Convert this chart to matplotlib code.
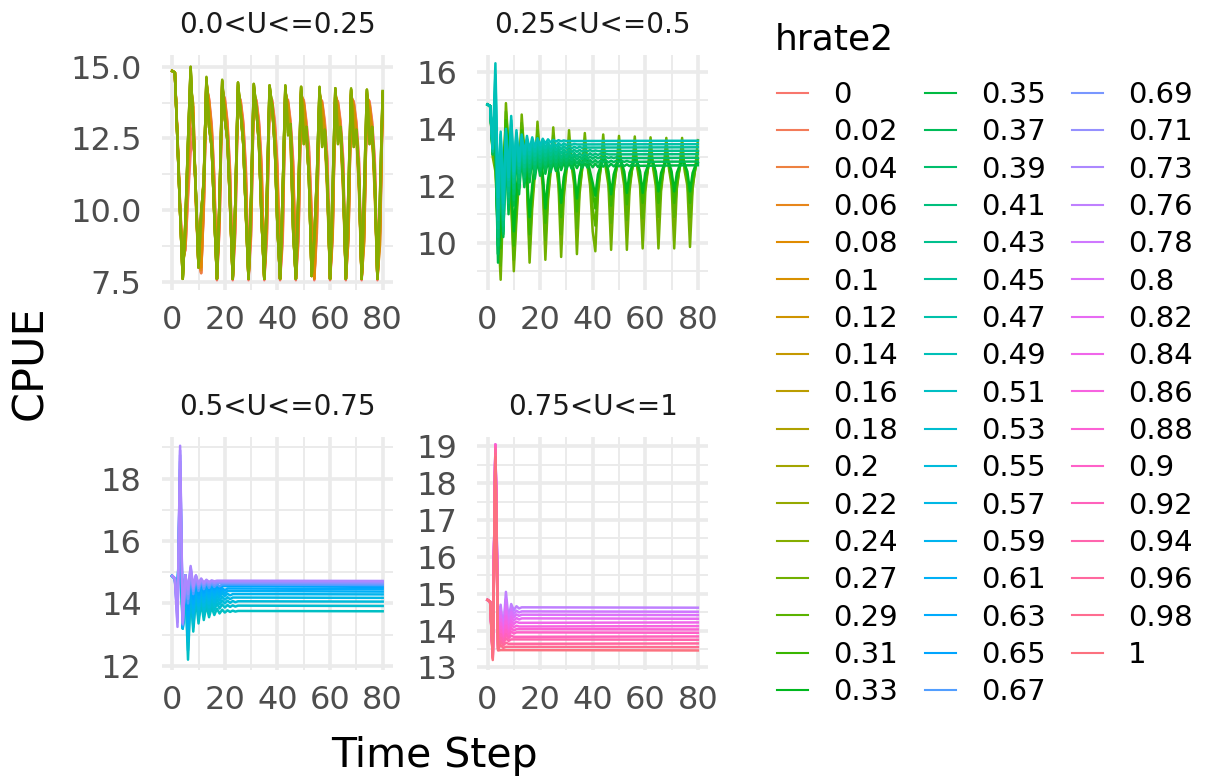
'''CPUE by time step for each harvest rate, faceted by U class (ggplot-like layout)'''

import numpy as np
import matplotlib.pyplot as plt
from matplotlib.lines import Line2D

plt.rcParams['font.family'] = ['DejaVu Sans']

HRATE = ['0', '0.02', '0.04', '0.06', '0.08', '0.1', '0.12', '0.14', '0.16', '0.18',
         '0.2', '0.22', '0.24', '0.27', '0.29', '0.31', '0.33', '0.35', '0.37', '0.39',
         '0.41', '0.43', '0.45', '0.47', '0.49', '0.51', '0.53', '0.55', '0.57', '0.59',
         '0.61', '0.63', '0.65', '0.67', '0.69', '0.71', '0.73', '0.76', '0.78', '0.8',
         '0.82', '0.84', '0.86', '0.88', '0.9', '0.92', '0.94', '0.96', '0.98', '1']
FACETS = ['0.0<U<=0.25', '0.25<U<=0.5', '0.5<U<=0.75', '0.75<U<=1']
FACET_SIZES = [13, 12, 12, 13]

X_TICKS = [0, 20, 40, 60, 80]
Y_TICKS = [[7.5, 10.0, 12.5, 15.0], [10, 12, 14, 16], [12, 14, 16, 18],
           [13, 14, 15, 16, 17, 18, 19]]
Y_TICK_LABELS = [['7.5', '10.0', '12.5', '15.0'], ['10', '12', '14', '16'],
                 ['12', '14', '16', '18'], ['13', '14', '15', '16', '17', '18', '19']]

# CPUE per time step (t = 0, 1, 2, ...), one string per hrate.
# Series that settle to a flat level stop early; the level at t = 80 is in *_END.
P1_CPUE = [
    # 0
    """14.85 14.8 12.6 10.2 8.4 8.6 10.4  12.0 12.6 10.5 8.6 7.8 10.0
       14.2 13.9 13.0 11.2 7.55 9.4  14.1 13.9 13.1 11.4 7.55 9.2  14.0 13.85 13.1 11.5 7.55 9.1
       13.95 13.85 13.1 11.6 7.55 9.0  13.9 13.85 13.1 11.6 7.55 8.9  13.9 13.85 13.1 11.7 7.55 8.9
       13.9 13.85 13.1 12.2 10.0 7.55 9.2  13.9 13.8 13.1 11.8 7.55 9.0  13.9 13.8 13.1 11.8 7.55 9.0
       13.9 13.8 13.1 11.8 7.55 9.0  13.9 13.8 13.1 11.8 7.55 9.0  13.85""",
    # 0.02
    """14.85 14.8 12.6 10.1 8.3 8.6 10.6  12.6 13.0 10.6 8.4 7.8 10.1
       14.3 13.85 12.9 11.0 7.6 9.5  14.15 13.85 13.0 11.2 7.6 9.4  14.05 13.8 13.0 11.3 7.6 9.3
       14.0 13.8 13.0 11.4 7.6 9.2  13.95 13.8 13.0 11.4 7.6 9.1  13.95 13.8 13.0 11.5 7.6 9.1
       13.95 13.8 13.0 12.0 9.8 7.6 9.4  13.95 13.75 13.0 11.6 7.6 9.2  13.95 13.75 13.0 11.6 7.6 9.2
       13.9 13.75 13.0 11.6 7.6 9.2  13.9 13.75 13.0 11.6 7.6 9.2  13.9""",
    # 0.04
    """14.85 14.8 12.5 10.1 8.2 8.7 10.9  13.2 13.4 10.4 8.2 7.8 10.2
       14.4 13.8 12.8 10.8 7.6 9.7  14.2 13.8 12.9 11.0 7.6 9.6  14.1 13.75 12.9 11.1 7.6 9.5
       14.05 13.75 12.9 11.2 7.6 9.4  14.0 13.75 12.9 11.2 7.6 9.3  14.0 13.75 12.9 11.3 7.6 9.3
       14.0 13.75 12.9 11.8 9.6 7.6 9.6  14.0 13.7 12.9 11.4 7.6 9.4  14.0 13.7 12.9 11.4 7.6 9.4
       13.95 13.7 12.9 11.4 7.6 9.4  13.95 13.7 12.9 11.4 7.6 9.4  13.95""",
    # 0.06
    """14.85 14.8 12.5 10.0 8.1 8.8 11.3  13.8 13.6 10.3 8.1 7.9 10.3
       14.45 13.75 12.7 10.6 7.6 9.9  14.25 13.75 12.8 10.8 7.6 9.8  14.15 13.7 12.8 10.9 7.6 9.7
       14.1 13.7 12.8 11.0 7.6 9.6  14.05 13.7 12.8 11.0 7.6 9.6  14.05 13.7 12.8 11.1 7.6 9.5
       14.05 13.7 12.8 11.6 9.4 7.6 9.8  14.05 13.65 12.8 11.2 7.6 9.6  14.05 13.65 12.8 11.2 7.6 9.6
       14.0 13.65 12.8 11.2 7.6 9.6  14.0 13.65 12.8 11.2 7.6 9.6  14.0""",
    # 0.08
    """14.85 14.8 12.5 10.0 8.0 8.9 11.6  14.3 13.7 10.2 8.0 8.0 10.4
       14.5 13.7 12.6 10.4 7.6 10.1  14.3 13.7 12.7 10.6 7.6 10.0  14.2 13.65 12.7 10.7 7.6 9.9
       14.15 13.65 12.7 10.8 7.6 9.8  14.1 13.65 12.7 10.8 7.6 9.8  14.1 13.65 12.7 10.9 7.6 9.7
       14.1 13.65 12.7 11.4 9.2 7.6 10.0  14.1 13.6 12.7 11.0 7.6 9.8  14.1 13.6 12.7 11.0 7.6 9.8
       14.05 13.6 12.7 11.0 7.6 9.8  14.05 13.6 12.7 11.0 7.6 9.8  14.05""",
    # 0.1
    """14.85 14.8 12.4 9.9 7.7 9.3 12.0  14.6 13.2 10.4 8.0 9.6 11.2
       14.4 13.1 12.3 9.9 7.6 10.2  14.3 13.3 12.5 10.0 7.6 10.1  14.2 13.5 12.5 9.8 7.6 10.2
       14.15 13.6 12.4 9.6 7.6 10.2  14.1 13.7 12.4 9.4 7.6 10.2  14.1 13.7 12.4 9.2 7.6 10.1
       14.05 13.7 12.5 11.2 7.7 8.6 10.4  14.0 13.6 12.6 10.4 7.6 9.2  14.0 13.6 12.6 10.5 7.6 9.0
       14.0 13.6 12.6 10.6 7.6 8.9  14.0 13.6 12.6 10.5 7.6 8.8  13.9""",
    # 0.12
    """14.85 14.8 12.4 9.9 7.7 9.4 12.1  14.7 13.1 10.5 8.0 9.7 11.1
       14.45 13.0 12.3 9.9 7.6 10.3  14.35 13.2 12.5 10.1 7.6 10.2  14.25 13.4 12.4 9.8 7.6 10.3
       14.2 13.5 12.3 9.6 7.6 10.3  14.15 13.6 12.3 9.4 7.6 10.4  14.15 13.6 12.4 9.3 7.6 10.3
       14.1 13.5 12.6 11.1 7.7 8.8 10.6  14.05 13.3 12.7 10.6 7.6 9.6  14.05 13.3 12.7 10.7 7.6 9.5
       14.05 13.3 12.7 10.8 7.6 9.4  14.0 13.3 12.7 10.7 7.6 9.3  13.95""",
    # 0.14
    """14.85 14.8 12.4 9.9 7.6 9.4 12.2  14.8 13.0 10.5 8.0 9.8 11.1
       14.5 13.0 12.3 9.8 7.6 10.3  14.4 13.2 12.4 10.1 7.6 10.2  14.3 13.4 12.4 9.9 7.6 10.4
       14.25 13.5 12.3 9.6 7.6 10.4  14.2 13.6 12.3 9.5 7.6 10.5  14.2 13.4 12.6 9.3 7.6 10.5
       14.15 13.2 12.7 11.1 7.7 8.9 10.8  14.1 13.0 12.8 10.7 7.6 10.0  14.1 13.0 12.8 10.8 7.6 9.9
       14.1 12.9 12.8 10.9 7.6 9.8  14.05 12.9 12.8 10.8 7.6 9.7  14.0""",
    # 0.16
    """14.85 14.8 12.4 9.9 7.6 9.5 12.3  14.85 13.0 10.5 8.0 9.8 11.0
       14.55 13.0 12.2 9.8 7.6 10.4  14.45 13.2 12.4 10.1 7.6 10.3  14.35 13.4 12.3 9.9 7.6 10.4
       14.3 13.5 12.3 9.6 7.6 10.5  14.25 13.6 12.2 9.5 7.6 10.6  14.25 13.1 12.8 9.3 7.6 10.6
       14.2 12.9 12.8 11.0 7.7 8.9 11.0  14.15 12.8 12.8 10.8 7.6 10.3  14.15 12.7 12.8 10.9 7.6 10.2
       14.15 12.7 12.8 11.0 7.6 10.1  14.1 12.7 12.8 10.9 7.6 10.0  14.05""",
    # 0.18
    """14.85 14.8 12.4 9.9 7.6 9.5 12.3  14.9 12.9 10.6 8.0 9.9 11.0
       14.6 12.9 12.2 9.8 7.6 10.4  14.5 13.2 12.4 10.2 7.6 10.3  14.4 13.4 12.3 9.9 7.6 10.5
       14.35 13.5 12.2 9.6 7.6 10.5  14.3 13.6 12.2 9.4 7.6 10.6  14.3 12.9 12.9 9.3 7.6 10.7
       14.25 12.6 12.9 11.0 7.7 9.0 11.1  14.2 12.5 12.8 10.8 7.6 10.6  14.2 12.5 12.8 10.9 7.6 10.5
       14.2 12.4 12.8 11.0 7.6 10.5  14.15 12.5 12.8 10.9 7.6 10.4  14.1""",
    # 0.2
    """14.85 14.8 12.4 9.9 7.6 9.6 12.4  14.95 12.9 10.6 8.0 9.9 11.0
       14.6 12.9 12.2 9.8 7.6 10.4  14.5 13.2 12.4 10.2 7.6 10.3  14.45 13.4 12.3 9.9 7.6 10.5
       14.4 13.5 12.2 9.6 7.6 10.6  14.35 13.6 12.2 9.4 7.6 10.7  14.3 12.8 13.0 9.2 7.6 10.7
       14.3 12.4 12.9 11.0 7.7 9.0 11.2  14.25 12.3 12.8 10.8 7.6 10.8  14.25 12.4 12.9 11.0 7.6 10.7
       14.2 12.3 12.8 11.1 7.6 10.8  14.2 12.4 12.9 11.0 7.6 10.5  14.1""",
    # 0.22
    """14.85 14.8 12.4 9.9 7.6 9.6 12.4  15.0 12.9 10.6 8.0 9.9 11.0
       14.62 12.9 12.2 9.8 7.6 10.4  14.52 13.2 12.4 10.2 7.6 10.3  14.45 13.4 12.3 9.9 7.6 10.5
       14.4 13.5 12.2 9.6 7.6 10.6  14.35 13.6 12.2 9.4 7.6 10.7  14.35 12.7 13.0 9.2 7.6 10.8
       14.3 12.3 12.9 11.0 7.7 9.0 11.2  14.3 12.2 12.8 10.8 7.6 10.9  14.25 12.3 12.9 11.0 7.6 10.8
       14.2 12.2 12.8 11.1 7.6 10.9  14.2 12.3 12.9 11.0 7.6 10.6  14.15""",
    # 0.24
    """14.85 14.8 12.4 9.9 7.6 9.6 12.4  15.0 12.9 10.6 8.0 9.9 11.0
       14.65 12.9 12.2 9.8 7.6 10.4  14.55 13.2 12.5 10.2 7.6 10.3  14.45 13.4 12.4 9.9 7.6 10.5
       14.4 13.5 12.3 9.6 7.6 10.6  14.35 13.6 12.2 9.4 7.6 10.7  14.35 12.6 13.0 9.2 7.6 10.8
       14.3 12.3 12.9 11.0 7.7 9.0 11.2  14.3 12.2 12.8 10.8 7.6 10.9  14.25 12.3 12.9 11.0 7.6 10.8
       14.25 12.2 12.8 11.1 7.6 10.9  14.2 12.3 12.9 11.0 7.6 10.6  14.15""",
]
P1_END = [None] * 13

P2_CPUE = [
    # 0.27
    """14.85 14.8 13.0 12.5 10.6 8.7 11.6  14.9 13.3 11.4 9.0 10.8 12.3  14.5 13.1 12.0 9.3 11.2 12.4
       14.25 12.9 12.0 9.4 11.5 12.5  14.05 12.8 12.0 9.5 11.6 12.5  13.95 12.7 12.0 9.6 11.7 12.6
       13.85 12.7 12.0 10.4 9.7 11.7 12.6  13.8 12.6 12.0 9.75 11.8 12.6  13.75 12.6 12.0 9.75 11.8 12.6
       13.73 12.6 12.0 9.8 11.8 12.6  13.7 12.6 12.0 9.8 11.8 12.6  13.68 12.6 12.0 9.8 11.9 12.6
       13.68 12.5 12.0 9.85 11.9 12.6  13.6""",
    # 0.29
    """14.85 14.8 13.1 12.9 10.2 9.2 12.0  14.6 13.4 11.6 9.4 11.1 12.5  14.2 13.2 12.2 9.8 11.5 12.6
       13.95 13.0 12.2 10.1 11.7 12.6  13.75 12.9 12.2 10.3 11.8 12.6  13.6 12.8 12.2 10.5 11.9 12.6
       13.5 12.8 12.2 11.2 10.6 11.9 12.6  13.4 12.7 12.2 10.7 12.0 12.6  13.35 12.7 12.2 10.8 12.0 12.6
       13.3 12.7 12.2 10.85 12.0 12.6  13.25 12.7 12.2 10.9 12.0 12.6  13.25 12.7 12.2 10.9 12.0 12.6
       13.2 12.6 12.2 10.9 12.0 12.6  13.2""",
    # 0.31
    """14.85 14.8 13.2 13.3 9.9 9.8 12.3  14.3 13.5 11.8 9.9 11.4 12.6  13.95 13.3 12.3 10.3 11.8 12.7
       13.7 13.1 12.3 10.7 12.0 12.7  13.5 13.0 12.3 10.9 12.1 12.7  13.35 12.9 12.3 11.1 12.1 12.7
       13.25 12.9 12.3 11.8 11.2 12.2 12.6  13.15 12.8 12.3 11.3 12.2 12.6  13.1 12.8 12.35 11.35 12.2 12.6
       13.05 12.8 12.35 11.4 12.2 12.6  13.0 12.8 12.35 11.4 12.2 12.6  13.0 12.8 12.35 11.4 12.2 12.6
       13.0 12.75 12.35 11.4 12.2 12.6  12.95""",
    # 0.33
    """14.85 14.8 13.3 13.8 9.6 10.5 12.5  14.0 13.6 12.0 10.4 11.8 12.7  13.7 13.3 12.4 10.9 12.0 12.8
       13.45 13.1 12.4 11.2 12.2 12.8  13.3 13.0 12.45 11.4 12.3 12.75  13.15 12.95 12.45 11.55 12.35 12.75
       13.05 12.9 12.5 12.1 11.65 12.4 12.7  12.95 12.85 12.5 11.7 12.4 12.7  12.9 12.8 12.5 11.75 12.45 12.7
       12.9 12.8 12.5 11.75 12.45 12.7  12.85 12.8 12.5 11.8 12.45 12.7  12.85 12.8 12.5 11.8 12.45 12.7
       12.85 12.75 12.5 11.8 12.45 12.7  12.8""",
    # 0.35
    """14.85 14.8 13.1 13.5 9.3 13.2 10.2 13.3 11.0 13.4 11.3 13.25 11.7 13.1 11.95 13.0 12.12 12.95
       12.25 12.9 12.35 12.88 12.42 12.86 12.48 12.84 12.52 12.83 12.55 12.82 12.58 12.81 12.6 12.8
       12.62 12.8 12.63 12.79 12.64 12.79 12.65 12.78 12.66 12.78 12.67 12.77 12.67 12.77 12.68 12.76
       12.68 12.76 12.69 12.75 12.69 12.75 12.7 12.74 12.7""",
    # 0.37
    """14.85 14.8 13.1 13.9 9.6 13.3 10.3 13.4 11.2 13.55 11.5 13.35 11.9 13.2 12.15 13.1 12.32 13.05
       12.45 13.0 12.54 12.98 12.6 12.96 12.65 12.95 12.69 12.94 12.72 12.93 12.74 12.92 12.76 12.92
       12.78 12.91 12.79 12.91 12.8 12.9 12.81 12.9 12.81 12.89 12.82 12.89 12.82 12.88 12.83 12.88
       12.83 12.87 12.84 12.87 12.84""",
    # 0.39
    """14.85 14.8 13.2 14.3 9.9 13.4 10.4 13.5 11.4 13.7 11.7 13.45 12.1 13.3 12.3 13.2 12.48 13.15
       12.6 13.12 12.68 13.1 12.74 13.08 12.79 13.07 12.83 13.06 12.86 13.05 12.88 13.04 12.9 13.04
       12.92 13.03 12.93 13.03 12.94 13.02 12.95 13.02 12.96 13.01 12.96 13.01 12.97 13.0 12.97 13.0
       12.97""",
    # 0.41
    """14.85 14.8 13.2 14.7 10.2 13.5 10.6 13.6 11.6 13.85 11.9 13.55 12.3 13.4 12.5 13.32 12.65 13.28
       12.75 13.25 12.83 13.22 12.89 13.2 12.93 13.19 12.96 13.18 12.99 13.17 13.01 13.16 13.03 13.15
       13.04 13.15 13.05 13.14 13.06 13.14 13.07 13.13 13.08 13.13 13.09 13.12 13.1""",
    # 0.43
    """14.85 14.8 13.2 15.1 10.5 13.6 10.8 13.7 11.8 14.0 12.1 13.65 12.45 13.5 12.65 13.42 12.8 13.38
       12.9 13.35 12.98 13.33 13.04 13.31 13.08 13.3 13.11 13.29 13.14 13.28 13.16 13.27 13.18 13.26
       13.19 13.26 13.2 13.25 13.21 13.25 13.21 13.24 13.22""",
    # 0.45
    """14.85 14.8 13.3 15.5 10.8 13.7 11.0 13.8 12.0 14.15 12.3 13.75 12.6 13.6 12.8 13.52 12.95 13.48
       13.05 13.46 13.12 13.44 13.18 13.42 13.22 13.41 13.25 13.4 13.28 13.39 13.3 13.38 13.31 13.37
       13.32 13.37 13.33 13.36 13.34""",
    # 0.47
    """14.85 14.8 13.3 15.9 11.2 13.8 11.2 13.9 12.2 14.3 12.4 13.85 12.7 13.7 12.95 13.62 13.1 13.58
       13.2 13.56 13.27 13.54 13.32 13.52 13.36 13.51 13.39 13.5 13.41 13.49 13.43 13.48 13.44 13.47
       13.45""",
    # 0.49
    """14.85 14.8 13.3 16.3 11.6 13.9 11.4 14.0 12.3 14.45 12.5 13.95 12.85 13.8 13.1 13.75 13.25 13.7
       13.35 13.67 13.42 13.65 13.48 13.63 13.52 13.61 13.55 13.6 13.56 13.59 13.57""",
]
P2_END = [None, None, None, None, 12.72, 12.85, 12.98, 13.11, 13.23, 13.35, 13.46, 13.58]

P3_CPUE = [
    "14.88 14.8 14.55 15.6 13.2 14.6 12.2 14.4 13.1 14.2 13.36 14.05 13.47 13.95 13.56 13.88 13.63 13.83 13.68 13.8 13.71 13.78 13.73 13.77 13.74 13.76",
    "14.88 14.8 14.45 16.0 13.2 14.7 12.5 14.5 13.25 14.3 13.52 14.18 13.63 14.1 13.72 14.04 13.79 14.0 13.84 13.97 13.87 13.95 13.89 13.94 13.9 13.93",
    "14.88 14.8 14.35 16.5 13.2 14.75 12.8 14.6 13.4 14.4 13.67 14.3 13.78 14.22 13.87 14.16 13.93 14.12 13.97 14.1 14.0 14.09 14.02 14.08 14.04 14.07",
    "14.88 14.8 14.25 16.9 13.2 14.8 13.0 14.7 13.55 14.5 13.8 14.4 13.92 14.33 13.99 14.27 14.05 14.24 14.09 14.22 14.12 14.2 14.14 14.19",
    "14.88 14.8 14.15 17.3 13.25 14.85 13.2 14.8 13.7 14.6 13.93 14.5 14.04 14.43 14.11 14.38 14.17 14.35 14.21 14.33 14.24 14.31 14.26 14.3",
    "14.88 14.8 14.0 17.7 13.25 14.9 13.4 14.9 13.85 14.68 14.05 14.58 14.15 14.51 14.22 14.47 14.27 14.44 14.3 14.42 14.33 14.4",
    "14.88 14.8 13.9 18.0 13.3 14.9 13.6 14.95 14.0 14.75 14.17 14.65 14.26 14.58 14.32 14.54 14.36 14.51 14.39 14.49 14.42 14.48",
    "14.88 14.8 13.8 18.3 13.3 14.9 13.8 15.0 14.15 14.8 14.28 14.7 14.36 14.64 14.41 14.6 14.45 14.57 14.48 14.56",
    "14.88 14.8 13.65 18.55 13.3 14.9 14.0 15.05 14.3 14.85 14.4 14.74 14.46 14.68 14.5 14.65 14.53 14.62 14.55 14.61",
    "14.88 14.8 13.55 18.75 13.35 14.9 14.15 15.1 14.4 14.87 14.5 14.76 14.55 14.71 14.58 14.68 14.6 14.66",
    "14.88 14.8 13.4 18.9 13.35 14.9 14.3 15.15 14.48 14.9 14.57 14.78 14.62 14.73 14.64 14.71 14.66 14.69",
    "14.88 14.8 13.25 19.05 13.4 14.9 14.45 15.2 14.55 14.9 14.62 14.8 14.67 14.76 14.69 14.74 14.71 14.73",
]
P3_END = [13.75, 13.92, 14.06, 14.18, 14.29, 14.38, 14.46, 14.53, 14.59, 14.64, 14.68, 14.72]

P4_CPUE = [
    "14.83 14.78 13.5 19.0 14.3 14.7 14.0 15.05 14.3 14.72 14.55 14.66 14.6 14.63",
    "14.83 14.78 13.45 19.02 14.15 14.6 13.95 14.85 14.22 14.6 14.45 14.54 14.49 14.52",
    "14.83 14.78 13.42 19.03 14.0 14.5 13.9 14.68 14.15 14.5 14.36 14.44 14.4 14.43",
    "14.83 14.78 13.4 19.04 13.9 14.4 13.85 14.52 14.08 14.38 14.27 14.34 14.3 14.33",
    "14.83 14.78 13.38 19.05 13.8 14.3 13.8 14.38 14.0 14.27 14.18 14.24 14.21",
    "14.83 14.78 13.36 19.05 13.7 14.2 13.75 14.25 13.94 14.17 14.09 14.13 14.11",
    "14.83 14.78 13.34 19.04 13.65 14.1 13.72 14.13 13.9 14.07 14.0 14.04",
    "14.83 14.78 13.32 19.02 13.6 14.0 13.7 14.02 13.85 13.97 13.92 13.95",
    "14.83 14.78 13.3 19.0 13.55 13.9 13.68 13.9 13.79 13.86 13.83",
    "14.83 14.78 13.28 18.95 13.5 13.8 13.66 13.79 13.72 13.76",
    "14.83 14.78 13.26 18.9 13.5 13.7 13.6 13.67 13.64",
    "14.83 14.78 13.24 18.8 13.5 13.6 13.53 13.56",
    "14.83 14.78 13.2 18.7 13.46 13.47",
]
P4_END = [14.62, 14.51, 14.42, 14.32, 14.22, 14.12, 14.03, 13.94, 13.84, 13.75, 13.65, 13.55, 13.46]

PANEL_DATA = [(P1_CPUE, P1_END), (P2_CPUE, P2_END), (P3_CPUE, P3_END), (P4_CPUE, P4_END)]

# layout in pixels of the 1206 x 783 output
W, H = 1206, 783
PANEL_BOX = [(161.7, 55, 393.2, 290), (477, 55, 708.4, 290),
             (161.7, 437, 393.2, 670), (477, 437, 708.4, 670)]
Y_LIMS = [(7.21, 15.41), (8.34, 16.59), (11.87, 19.33), (12.93, 19.25)]
X_LIM = (-4, 84)
GRID = '#EBEBEB'


def hue_pal(n, c=100, l=65, h0=15):
    '''ggplot2 default discrete colours: evenly spaced hues in polar Luv'''
    hues = np.deg2rad((h0 + np.arange(n) * 360 / n) % 360)
    u, v = c * np.cos(hues), c * np.sin(hues)
    xn, yn, zn = 95.047, 100.0, 108.883
    un = 4 * xn / (xn + 15 * yn + 3 * zn)
    vn = 9 * yn / (xn + 15 * yn + 3 * zn)
    y = np.full(n, yn * ((l + 16) / 116) ** 3)
    up, vp = u / (13 * l) + un, v / (13 * l) + vn
    x = y * 9 * up / (4 * vp)
    z = y * (12 - 3 * up - 20 * vp) / (4 * vp)
    m = np.array([[3.240479, -1.537150, -0.498535],
                  [-0.969256, 1.875992, 0.041556],
                  [0.055648, -0.204043, 1.057311]])
    rgb = np.clip(m @ np.vstack([x, y, z]) / 100, 0, 1)
    rgb = np.where(rgb <= 0.0031308, 12.92 * rgb, 1.055 * rgb ** (1 / 2.4) - 0.055)
    return [tuple(col) for col in np.clip(rgb, 0, 1).T]


def frac(x, y):
    return x / W, 1 - y / H


def minor_ticks(ticks, lims):
    step = ticks[1] - ticks[0]
    cand = np.arange(ticks[0] - step / 2, ticks[-1] + step, step)
    return cand[(cand > lims[0]) & (cand < lims[1])]


def draw_panel(fig, i, colors):
    x0, y0, x1, y1 = PANEL_BOX[i]
    left, bottom = frac(x0, y1)
    ax = fig.add_axes([left, bottom, (x1 - x0) / W, (y1 - y0) / H])

    rows, ends = PANEL_DATA[i]
    for row, end, col in zip(rows, ends, colors):
        y = np.array(row.split(), dtype=float)
        t = np.arange(len(y))
        if end is not None:
            t = np.append(t, 80)
            y = np.append(y, end)
        ax.plot(t, y, color=col, lw=1.8, solid_joinstyle='round')

    ax.set_xlim(*X_LIM)
    ax.set_ylim(*Y_LIMS[i])
    ax.set_xticks(X_TICKS)
    ax.set_xticks(minor_ticks(X_TICKS, X_LIM), minor=True)
    ax.set_yticks(Y_TICKS[i], Y_TICK_LABELS[i])
    ax.set_yticks(minor_ticks(Y_TICKS[i], Y_LIMS[i]), minor=True)
    ax.grid(which='major', color=GRID, lw=2.6)
    ax.grid(which='minor', color=GRID, lw=1.4)
    ax.set_axisbelow(True)
    for s in ax.spines.values():
        s.set_visible(False)
    ax.tick_params(which='both', length=0)
    ax.tick_params(axis='y', labelsize=23, labelcolor='#4D4D4D', pad=14.4)
    ax.tick_params(axis='x', labelsize=23, labelcolor='#4D4D4D', pad=11)

    tx, ty = frac((x0 + x1) / 2, y0 - 22)
    fig.text(tx, ty, FACETS[i], ha='center', va='baseline', fontsize=20, color='#1A1A1A')
    return ax


def make_plot():
    fig = plt.figure(figsize=(W / 100, H / 100), dpi=100)
    colors = hue_pal(len(HRATE))

    start = 0
    for i, n in enumerate(FACET_SIZES):
        draw_panel(fig, i, colors[start:start + n])
        start += n

    fig.text(*frac(434, 767), 'Time Step', ha='center', va='baseline', fontsize=29.5)
    fig.text(*frac(30, 363), 'CPUE', ha='center', va='center', rotation=90, fontsize=31)

    fig.text(*frac(775, 50), 'hrate2', ha='left', va='baseline', fontsize=26)
    handles = [Line2D([], [], color=c, lw=1.5) for c in colors]
    fig.legend(handles, HRATE, ncol=3, loc='upper left', bbox_to_anchor=frac(777, 81),
               frameon=False, fontsize=21, handlelength=1.06, handletextpad=0.86,
               columnspacing=0.92, labelspacing=0.32, borderpad=0, borderaxespad=0)

    fig.savefig('out.png', dpi=100)


if __name__ == "__main__":
    make_plot()
